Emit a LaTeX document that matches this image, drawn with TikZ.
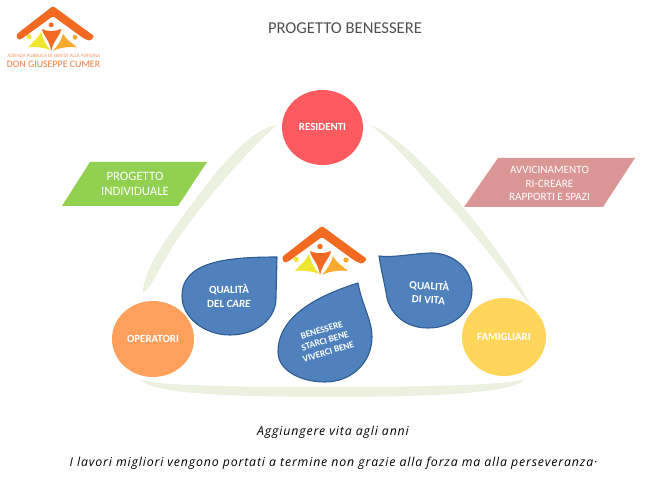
\documentclass[tikz,border=0pt]{standalone}
\usepackage{fontspec}
\setmainfont{Carlito}
\newfontfamily\hand[LetterSpace=7]{Open Sans}
\newfontfamily\logofont{Carlito}
\definecolor{palegreen}{HTML}{EBF1DE}
\definecolor{redc}{HTML}{FF5A5F}
\definecolor{orangec}{HTML}{FF9F5C}
\definecolor{yellowc}{HTML}{FFD55A}
\definecolor{dropfill}{HTML}{4F81BD}
\definecolor{dropline}{HTML}{2F5C94}
\definecolor{greenc}{HTML}{92D050}
\definecolor{pinkc}{HTML}{D99694}
\definecolor{roofc}{HTML}{F26A21}
\definecolor{ppl1}{HTML}{EFE62F}
\definecolor{ppl2}{HTML}{FBA92F}
\definecolor{logotext}{HTML}{F07A3A}
\definecolor{titlec}{HTML}{505050}
\tikzset{
  curveband/.style={fill=palegreen,draw=none},
  drop/.style={fill=dropfill,draw=dropline,line width=1.1pt,line join=round},
  droptext/.style={text=white,align=center,font=\fontsize{11}{13.5}\selectfont\bfseries},
  circletext/.style={text=white,font=\fontsize{10.9}{12}\selectfont\bfseries},
  bannertext/.style={align=center,text=white},
  handtext/.style={font=\hand\itshape\fontsize{12.3}{14}\selectfont,text=black},
  logopic/.pic={
    \fill[roofc,rounded corners=1.5pt] (0,0) -- (-40,31) -- (-38,37) -- (-33,35) -- (0,11) -- (33,35) -- (40,38) -- (45,33) -- cycle;
    \fill[roofc] (-2,20.5) circle (2.7);
    \fill[roofc] (-12,25) .. controls (-6,28) and (2,28) .. (9,25) .. controls (7,34) and (1,36) .. (-2,49) .. controls (-4,36) and (-10,34) .. (-12,25) -- cycle;
    \fill[ppl1] (-26,33.5) circle (2.7);
    \fill[ppl1] (-27,45) .. controls (-23,40) and (-17,36) .. (-13,28) .. controls (-11,36) and (-8,42) .. (-3,48) .. controls (-10,45) and (-19,44) .. (-27,45) -- cycle;
    \fill[ppl2] (24,34) circle (2.7);
    \fill[ppl2] (26,45) .. controls (21,40) and (14,37) .. (11,30) .. controls (9,38) and (5,43) .. (0,49) .. controls (7,45) and (18,44) .. (26,45) -- cycle;
  }
}
\begin{document}
\begin{tikzpicture}[x=1pt,y=-1pt]
\useasboundingbox (0,0) rectangle (665,497);
% curved bands
\fill[curveband] (277,125) .. controls (258,127) and (232,150) .. (198,196) .. controls (170,233) and (143,268) .. (143,293)
  .. controls (153,288) and (160,262) .. (184,230) .. controls (208,197) and (250,148) .. (277,125) -- cycle;
\fill[curveband] (370,125) .. controls (395,133) and (430,170) .. (457,200) .. controls (487,235) and (518,278) .. (530,305)
  .. controls (508,278) and (480,240) .. (448,205) .. controls (425,180) and (390,138) .. (370,125) -- cycle;
\fill[curveband] (141,380) .. controls (150,394) and (240,397) .. (330,397) .. controls (420,397) and (515,394) .. (525,379)
  .. controls (510,385) and (420,387) .. (330,387) .. controls (240,387) and (165,386) .. (141,380) -- cycle;
% title
\node[font=\fontsize{16.6}{18}\selectfont,text=titlec] (title) at (345,28) {PROGETTO BENESSERE};
% header logo
\pic[scale=0.92] at (53,6) {logopic};
\node[font=\logofont\fontsize{5}{6}\selectfont,text=logotext!80,inner sep=0pt] (logoa) at (54,56) {AZIENDA PUBBLICA DI SERVIZI ALLA PERSONA};
\node[font=\logofont\fontsize{9.9}{11}\selectfont,text=logotext,inner sep=0pt] (logob) at (53.5,64.5) {DON GIUSEPPE CUMER};
% centre logo
\pic at (322,226) {logopic};
% circles
\fill[redc] (322.5,127.5) ellipse (40.5 and 37.5);
\fill[orangec] (153,339) ellipse (41 and 38);
\fill[yellowc] (504,337) ellipse (42 and 39);
\node[circletext] (res) at (322.5,127) {RESIDENTI};
\node[circletext] (ope) at (153,338.5) {OPERATORI};
\node[circletext] (fam) at (504,337) {FAMIGLIARI};
% banners
\fill[greenc] (90,162) -- (207,162) -- (178,206) -- (62,206) -- cycle;
\node[bannertext,font=\fontsize{12.8}{15.5}\selectfont] (proj) at (135,184) {PROGETTO\\INDIVIDUALE};
\fill[pinkc] (498,158) -- (635,158) -- (603,207) -- (464,207) -- cycle;
\node[bannertext,font=\fontsize{11.2}{13.5}\selectfont] (avv) at (549.5,183.5) {AVVICINAMENTO\\RI-CREARE\\RAPPORTI E SPAZI};
% drops
\draw[drop] (277,257) .. controls (225,257) and (182,262) .. (182,296)
  .. controls (182,318) and (205,335) .. (230,335) .. controls (255,335) and (276,320) .. (276,298) -- cycle;
\draw[drop] (358,283) .. controls (320,295) and (278,315) .. (278,352)
  .. controls (278,370) and (300,382) .. (325,382) .. controls (352,382) and (372,362) .. (372,337) .. controls (372,320) and (362,305) .. (358,283) -- cycle;
\draw[drop] (379,256) .. controls (395,258) and (415,253) .. (433,253) .. controls (455,254) and (472,270) .. (472,290)
  .. controls (472,313) and (452,328) .. (428,328) .. controls (405,328) and (391,314) .. (387,298) .. controls (385,285) and (381,270) .. (379,256) -- cycle;
\node[droptext] (d1) at (229,296) {QUALITÀ\\DEL \textit{CARE}};
\node[droptext,rotate=-4] (d3) at (429,292) {QUALITÀ\\DI VITA};
\node[droptext,rotate=17,font=\fontsize{9.3}{11.3}\selectfont\bfseries] (d2) at (325,341) {BENESSERE\\STARCI BENE\\VIVERCI BENE};
% bottom text
\node[handtext] (t1) at (333,432) {Aggiungere vita agli anni};
\node[handtext] (t2) at (333.5,463) {I lavori migliori vengono portati a termine non grazie alla forza ma alla perseveranza·};
\end{tikzpicture}
\end{document}
